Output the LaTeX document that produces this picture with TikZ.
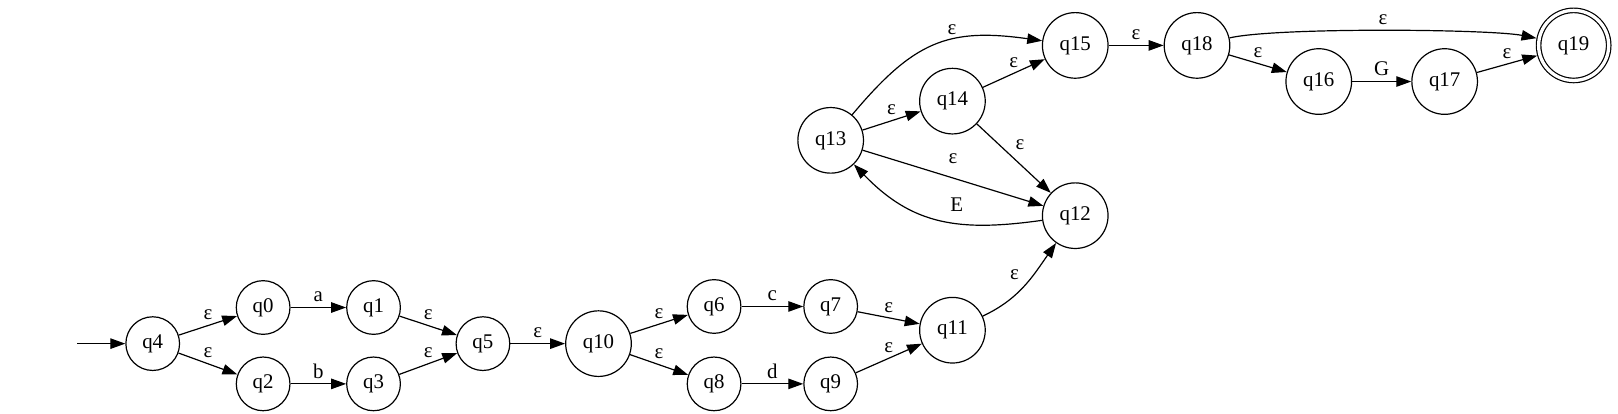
\documentclass[tikz,border=0pt]{standalone}
\usepackage{fontspec}
\setmainfont{Liberation Serif}
\usetikzlibrary{arrows.meta,positioning,calc}

\begin{document}
\begin{tikzpicture}[
    x=0.692pt, y=0.692pt,
    every node/.style={font=\fontsize{14}{16}\selectfont},
    state/.style={circle, draw, line width=0.8pt, minimum size=36pt, inner sep=0pt},
    wide/.style={state, minimum size=44pt},
    final/.style={state, double, double distance=2.2pt, minimum size=47pt, outer sep=1.9pt},
    arrow/.style={-{Triangle[length=10pt, width=7pt]}, line width=0.8pt}
]
    \useasboundingbox (0,0) rectangle (1568,-401);

    \coordinate (start) at (75,-333);
    \node[state] (q4) at (148,-333) {q4};
    \node[state] (q0) at (255,-298) {q0};
    \node[state] (q1) at (362,-298) {q1};
    \node[state] (q2) at (255,-372) {q2};
    \node[state] (q3) at (362,-372) {q3};
    \node[state] (q5) at (468,-333) {q5};
    \node[wide] (q10) at (580,-333) {q10};
    \node[state] (q6) at (692,-297) {q6};
    \node[state] (q7) at (805,-297) {q7};
    \node[state] (q8) at (692,-372) {q8};
    \node[state] (q9) at (805,-372) {q9};
    \node[wide] (q11) at (923,-320) {q11};
    \node[wide] (q12) at (1042,-209) {q12};
    \node[wide] (q13) at (805,-136) {q13};
    \node[wide] (q14) at (923,-98) {q14};
    \node[wide] (q15) at (1042,-44) {q15};
    \node[wide] (q18) at (1160,-44) {q18};
    \node[wide] (q16) at (1278,-79) {q16};
    \node[wide] (q17) at (1400,-79) {q17};
    \node[final] (q19) at (1525,-44) {q19};

    \draw[arrow] (start) -- (q4);
    \draw[arrow] (q4) -- node[above] {ε} (q0);
    \draw[arrow] (q4) -- node[above] {ε} (q2);
    \draw[arrow] (q0) -- node[above] {a} (q1);
    \draw[arrow] (q2) -- node[above] {b} (q3);
    \draw[arrow] (q1) -- node[above] {ε} (q5);
    \draw[arrow] (q3) -- node[above] {ε} (q5);
    \draw[arrow] (q5) -- node[above] {ε} (q10);
    \draw[arrow] (q10) -- node[above] {ε} (q6);
    \draw[arrow] (q10) -- node[above] {ε} (q8);
    \draw[arrow] (q6) -- node[above] {c} (q7);
    \draw[arrow] (q8) -- node[above] {d} (q9);
    \draw[arrow] (q7) -- node[above] {ε} (q11);
    \draw[arrow] (q9) -- node[above] {ε} (q11);
    \draw[arrow] (q11) to[out=25, in=-125] node[above left] {ε} (q12);
    \draw[arrow] (q12) to[out=188, in=-46, looseness=1.1] node[pos=0.4, above=4pt] {E} (q13);
    \draw[arrow] (q13) -- node[above=6pt] {ε} (q12);
    \draw[arrow] (q13) -- node[above] {ε} (q14);
    \draw[arrow] (q13) to[out=50, in=172, looseness=1.2] node[pos=0.6, above] {ε} (q15);
    \draw[arrow] (q14) -- node[above] {ε} (q15);
    \draw[arrow] (q14) -- node[pos=0.45, above right] {ε} (q12);
    \draw[arrow] (q15) -- node[above] {ε} (q18);
    \draw[arrow] (q18) -- node[above] {ε} (q16);
    \draw[arrow] (q16) -- node[above] {G} (q17);
    \draw[arrow] (q17) -- node[above] {ε} (q19);
    \draw[arrow] (q18) to[out=13, in=169, looseness=0.4] node[above] {ε} (q19);
\end{tikzpicture}
\end{document}
